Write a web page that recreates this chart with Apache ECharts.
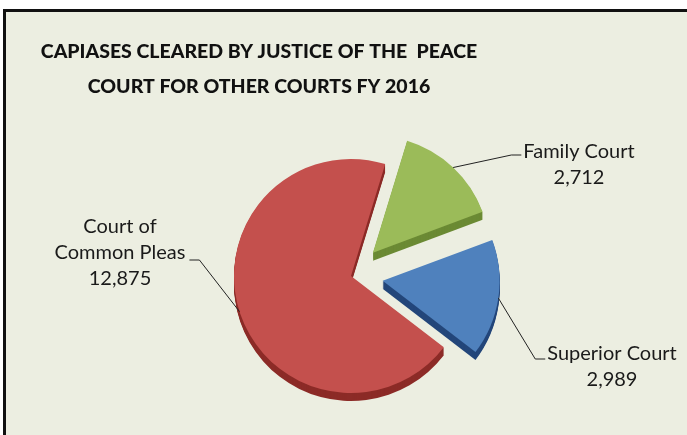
<!DOCTYPE html>
<html>
<head>
<meta charset="utf-8">
<script src="https://cdn.jsdelivr.net/npm/echarts@6/dist/echarts.min.js"></script>
<style>
  html, body { margin: 0; padding: 0; background: #fff; }
  #chart { width: 687px; height: 435px; }
</style>
</head>
<body>
<div id="chart"></div>
<script>
// data
const categories = ['Family Court', 'Superior Court', 'Court of\nCommon Pleas']
const values = [2712, 2989, 12875]
const exploded = ['Family Court', 'Superior Court']

const topColors = ['#9bbb59', '#4f81bd', '#c4504d']
const sideColors = ['#6b8a34', '#23467a', '#8c2b27']

const center = [351, 276]
const radius = 117
const depth = 8
const explode = 32

// label block centre x, centre y, and where its leader line meets it (dy)
const labelSpots = [[579, 165, -10], [612, 367, -8], [120, 253, 7]]

function makeData(colors, useSelect) {
  return categories.map((name, i) => ({
    name: name,
    value: values[i],
    selected: useSelect && exploded.indexOf(name) >= 0,
    itemStyle: { color: colors ? colors[i] : 'rgba(0,0,0,0)' }
  }))
}

function placeLabel(p) {
  const s = labelSpots[p.dataIndex]
  const w = p.labelRect.width
  const onRight = s[0] > center[0]
  const lineY = s[1] + s[2]
  const endX = onRight ? s[0] - w / 2 - 2 : s[0] + w / 2 + 4
  const midX = onRight ? endX - 10 : endX + 10
  // the first leg has the same length as the explode offset, so its end
  // sits on the rim of a pulled-out slice
  const pts = p.labelLinePoints
  const isOut = exploded.indexOf(categories[p.dataIndex]) >= 0
  const start = pts ? (isOut ? pts[1] : pts[0]) : [midX, lineY]
  return {
    x: s[0],
    y: s[1],
    align: 'center',
    verticalAlign: 'middle',
    labelLinePoints: [start, [midX, lineY], [endX, lineY]]
  }
}

const pieBase = {
  type: 'pie',
  silent: true,
  animation: false,
  radius: radius,
  startAngle: 73,
  selectedMode: 'multiple',
  selectedOffset: explode
}

const series = []
// side layers to fake the 3d depth
for (let d = depth; d >= 1; d--) {
  series.push(Object.assign({}, pieBase, {
    center: [center[0], center[1] + d],
    label: { show: false },
    labelLine: { show: false },
    z: 1,
    data: makeData(sideColors, true)
  }))
}
// top face
series.push(Object.assign({}, pieBase, {
  center: center,
  label: { show: false },
  labelLine: { show: false },
  z: 2,
  data: makeData(topColors, true)
}))
// labels only (not exploded, so labelLayout is honoured)
series.push(Object.assign({}, pieBase, {
  center: center,
  z: 3,
  label: {
    show: true,
    position: 'outside',
    color: '#1a1a1a',
    fontSize: 20,
    lineHeight: 26,
    fontFamily: 'Lato, sans-serif',
    formatter: p => p.name + '\n' + p.value.toLocaleString('en-US')
  },
  labelLine: {
    show: true,
    length: explode,
    length2: 10,
    lineStyle: { color: '#222', width: 1 }
  },
  labelLayout: placeLabel,
  data: makeData(null, false)
}))

const chart = echarts.init(document.getElementById('chart'), null, { renderer: 'canvas' })
chart.setOption({
  backgroundColor: '#ffffff',
  animation: false,
  graphic: [{
    type: 'rect',
    z: -10,
    shape: { x: 4.5, y: 10.5, width: 700, height: 450 },
    style: { fill: '#eceee1', stroke: '#111', lineWidth: 3 }
  }],
  title: {
    text: 'CAPIASES CLEARED BY JUSTICE OF THE  PEACE\nCOURT FOR OTHER COURTS FY 2016',
    left: 254,
    top: 29,
    textAlign: 'center',
    textStyle: {
      color: '#111',
      fontSize: 19.5,
      fontWeight: 900,
      lineHeight: 35,
      fontFamily: 'Lato, sans-serif'
    }
  },
  series: series
})
</script>
</body>
</html>
